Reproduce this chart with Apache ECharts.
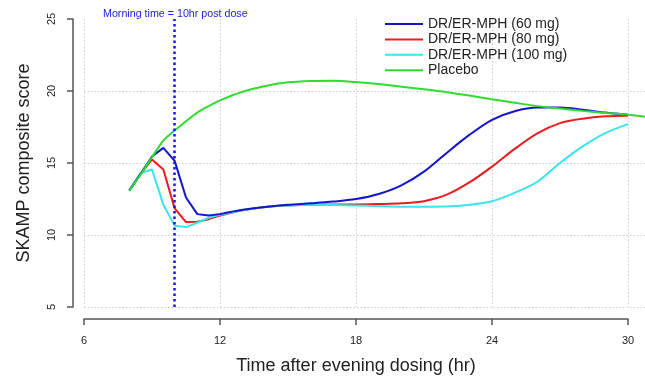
<!DOCTYPE html>
<html>
<head>
<meta charset="utf-8">
<script src="https://cdn.jsdelivr.net/npm/echarts@6/dist/echarts.min.js"></script>
<style>
  html, body { margin: 0; padding: 0; background: #fff; }
  #chart { width: 645px; height: 376px; }
</style>
</head>
<body>
<div id="chart"></div>
<script>
// time after evening dosing (hr)
const hours = [8, 8.5, 9, 9.5, 10, 10.5, 11, 11.5, 12, 13, 14, 15, 16, 17, 18, 19, 20, 21, 22, 23, 24, 25, 26, 27, 28, 29, 30]
const mph60 = [13.1, 14.25, 15.45, 16.05, 15.15, 12.6, 11.45, 11.35, 11.45, 11.75, 11.95, 12.1, 12.2, 12.32, 12.5, 12.85, 13.45, 14.4, 15.7, 16.95, 18.0, 18.6, 18.85, 18.85, 18.7, 18.5, 18.35]
const mph80 = [13.1, 14.25, 15.25, 14.55, 11.85, 10.9, 10.92, 11.1, 11.35, 11.72, 11.95, 12.05, 12.1, 12.12, 12.12, 12.15, 12.2, 12.35, 12.8, 13.65, 14.75, 15.98, 17.06, 17.77, 18.08, 18.24, 18.28]
const mph100 = [13.1, 14.3, 14.55, 12.1, 10.65, 10.55, 10.85, 11.2, 11.4, 11.72, 11.95, 12.05, 12.1, 12.08, 12.05, 12.0, 11.97, 11.97, 11.98, 12.1, 12.35, 12.93, 13.7, 15.0, 16.15, 17.08, 17.7]
const placeboHours = [8, 8.5, 9, 9.5, 10, 10.5, 11, 11.5, 12, 13, 14, 15, 16, 17, 18, 19, 20, 21, 22, 23, 24, 25, 26, 27, 28, 29, 30, 30.75]
const placebo = [13.1, 14.2, 15.4, 16.55, 17.25, 17.9, 18.5, 18.95, 19.35, 19.95, 20.35, 20.6, 20.7, 20.72, 20.62, 20.48, 20.3, 20.12, 19.92, 19.68, 19.42, 19.18, 18.95, 18.78, 18.62, 18.48, 18.35, 18.22]

const names = ['DR/ER-MPH (60 mg)', 'DR/ER-MPH (80 mg)', 'DR/ER-MPH (100 mg)', 'Placebo']
const colors = ['#1414cc', '#ea1c1c', '#38e4ee', '#30dc30']
const xTicks = [6, 12, 18, 24, 30]
const yTicks = [5, 10, 15, 20, 25]
const morningHour = 10
const morningText = 'Morning time = 10hr post dose'
// half-hourly part (sharp polyline) ends at index 8 = 12 hr
const splitAt = 8

const font = '"Liberation Sans", Arial, sans-serif'

const pairs = (xs, ys) => xs.map((x, i) => [x, ys[i]])

const lineSeries = (idx, data, smooth) => ({
  name: names[idx],
  type: 'line',
  xAxisIndex: 0,
  yAxisIndex: 0,
  data,
  smooth,
  symbol: 'none',
  clip: false,
  color: colors[idx],
  lineStyle: { color: colors[idx], width: 2 }
})

// early part linear, later part smooth; both halves share the legend name
const drugSeries = (idx, values) => [
  lineSeries(idx, pairs(hours.slice(0, splitAt + 1), values.slice(0, splitAt + 1)), false),
  lineSeries(idx, pairs(hours.slice(splitAt), values.slice(splitAt)), 0.3)
]

const chart = echarts.init(document.getElementById('chart'), null, { renderer: 'canvas' })

const series = [].concat(
  drugSeries(1, mph80),
  drugSeries(2, mph100),
  drugSeries(0, mph60),
  [lineSeries(3, pairs(placeboHours, placebo), 0.3)]
)

series[0].markLine = {
  silent: true,
  symbol: ['none', 'none'],
  label: { show: false },
  lineStyle: { color: '#1515e0', width: 2.5, type: [2.5, 3] },
  data: [{ xAxis: morningHour }]
}

// grid 0: data + grid lines (runs to the right edge), grid 1: R-style axes 6..30
const option = {
  animation: false,
  backgroundColor: '#fff',
  textStyle: { fontFamily: font },
  title: {
    text: morningText,
    left: 103,
    top: 9,
    padding: 0,
    textStyle: { fontFamily: font, fontSize: 10.7, fontWeight: 'normal', color: '#2020ee' }
  },
  legend: {
    orient: 'vertical',
    left: 384,
    top: 17,
    padding: 0,
    itemWidth: 38,
    itemHeight: 14,
    itemGap: 1.4,
    data: names,
    itemStyle: { opacity: 0 },
    textStyle: { fontFamily: font, fontSize: 14, color: '#222' }
  },
  grid: [
    { left: 84, right: 0, top: 19, bottom: 69, outerBoundsMode: 'none' },
    { left: 84, right: 17, top: 19, bottom: 69, outerBoundsMode: 'none' }
  ],
  xAxis: [
    {
      gridIndex: 0,
      type: 'value',
      min: xTicks[0],
      max: 30.75,
      interval: 6,
      axisLine: { show: false },
      axisTick: { show: false },
      axisLabel: { show: false },
      splitLine: {
        show: true,
        showMaxLine: false,
        lineStyle: { color: '#cfcfcf', width: 1, type: [1.5, 2] }
      }
    },
    {
      gridIndex: 1,
      type: 'value',
      min: xTicks[0],
      max: xTicks[xTicks.length - 1],
      interval: 6,
      offset: 12,
      axisLine: { show: true, lineStyle: { color: '#555', width: 1.5 } },
      axisTick: { show: true, length: 6, lineStyle: { color: '#555', width: 1.5 } },
      axisLabel: { margin: 16, fontSize: 11, color: '#222', fontFamily: font },
      splitLine: { show: false },
      name: 'Time after evening dosing (hr)',
      nameLocation: 'middle',
      nameGap: 38,
      nameTextStyle: { fontFamily: font, fontSize: 18, color: '#222' }
    }
  ],
  yAxis: [
    {
      gridIndex: 0,
      type: 'value',
      min: yTicks[0],
      max: yTicks[yTicks.length - 1],
      interval: 5,
      axisLine: { show: false },
      axisTick: { show: false },
      axisLabel: { show: false },
      splitLine: {
        show: true,
        showMaxLine: false,
        lineStyle: { color: '#cfcfcf', width: 1, type: [1.5, 2] }
      }
    },
    {
      gridIndex: 1,
      type: 'value',
      min: yTicks[0],
      max: yTicks[yTicks.length - 1],
      interval: 5,
      offset: 11,
      axisLine: { show: true, lineStyle: { color: '#555', width: 1.5 } },
      axisTick: { show: true, length: 6, lineStyle: { color: '#555', width: 1.5 } },
      axisLabel: { margin: 16, rotate: 90, fontSize: 11, color: '#222', fontFamily: font },
      splitLine: { show: false },
      name: 'SKAMP composite score',
      nameLocation: 'middle',
      nameGap: 40,
      nameTextStyle: { fontFamily: font, fontSize: 18, color: '#222' }
    }
  ],
  series
}

chart.setOption(option)
</script>
</body>
</html>
